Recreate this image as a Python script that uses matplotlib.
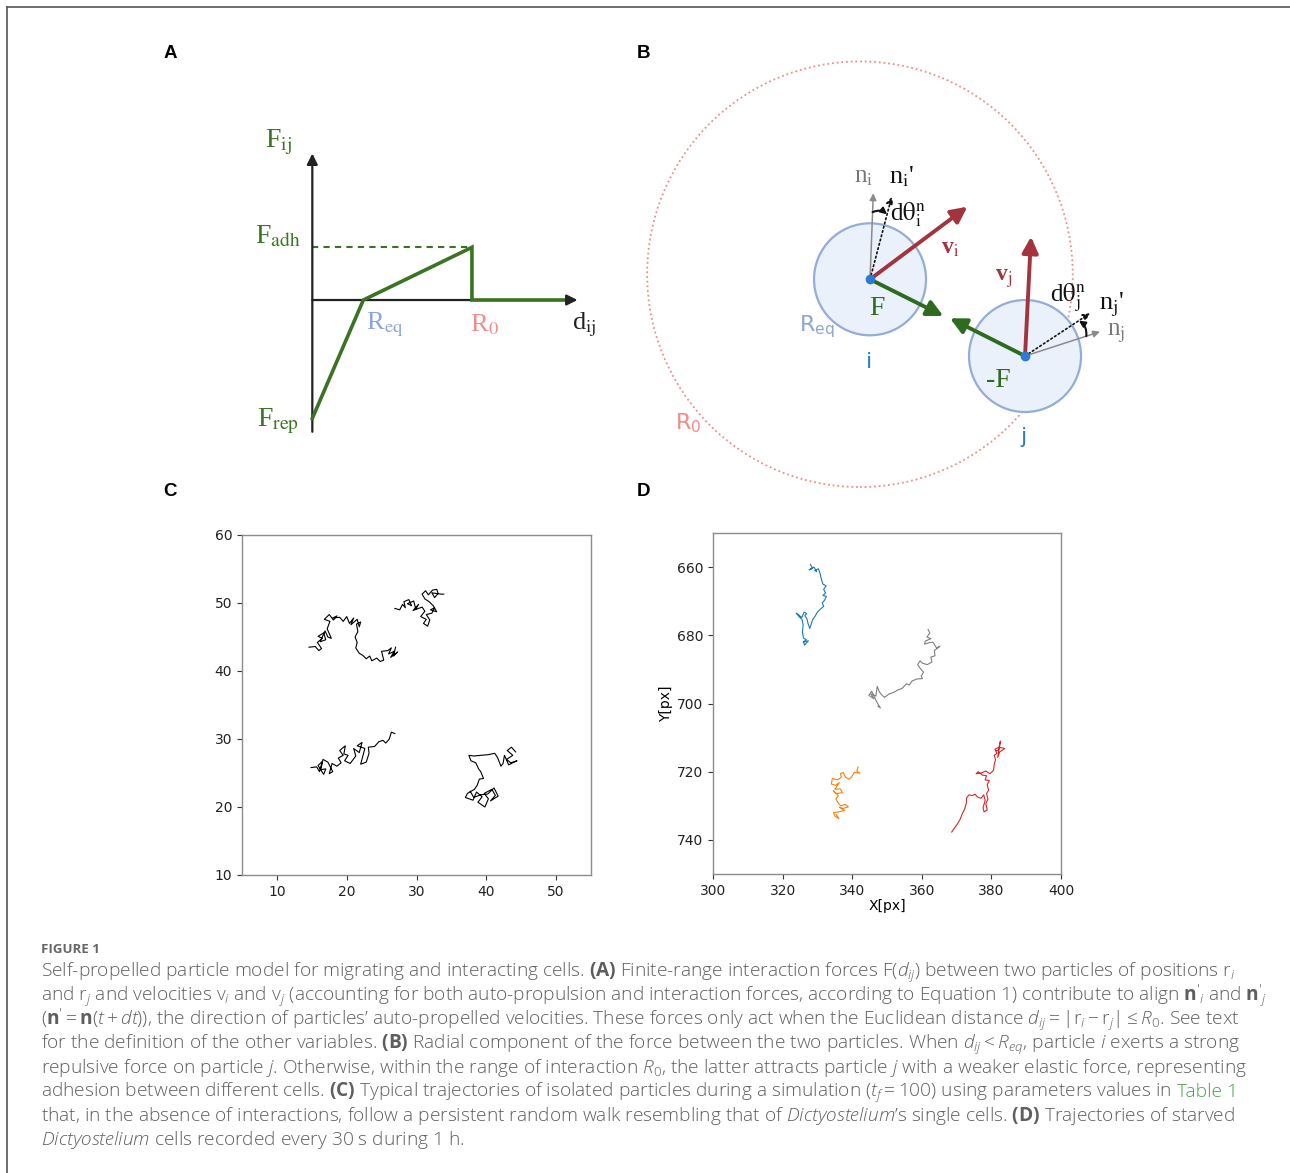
import numpy as np
import matplotlib.pyplot as plt
from matplotlib.patches import Circle

W, H = 1290, 1173

plt.rcParams['mathtext.fontset'] = 'custom'
plt.rcParams['mathtext.rm'] = 'Open Sans:light'
plt.rcParams['mathtext.it'] = 'Open Sans:italic:light'
plt.rcParams['mathtext.bf'] = 'Open Sans:bold'

# ---- panel A: piecewise interaction force (d in units of R_eq, F in units of F_adh)
R_eq = 1.0
R_0 = 3.13
d_max = 4.92
F_adh = 1.0
F_rep = -2.245
force_d = [0, R_eq, R_0, R_0, d_max]
force_F = [F_rep, 0, F_adh, 0, 0]

# ---- panel B: two particles (units of R_eq, particle i at origin)
pos_i = (0.0, 0.0)
pos_j = (2.768, -1.37)
r0_center = (-0.18, 0.09)
r0_radius = 3.8
F_tip = (1.309, -0.655)
minusF_tip = (1.429, -0.696)
v_i_tip = (1.738, 1.296)
v_j_tip = (2.875, 0.761)
n_i_tip = (0.059, 1.536)
n_i_new_tip = (0.3875, 1.475)
n_j_tip = (4.107, -0.936)
n_j_new_tip = (3.929, -0.607)

# ---- panel C: simulated trajectories
c1_x = [14.6, 15.5, 16.0, 16.4, 15.8, 16.5, 15.9, 16.7, 17.0, 16.2, 16.9, 17.3, 17.8, 17.2, 17.6, 16.8,
        17.5, 18.1, 18.6, 18.0, 19.0, 19.5, 20.0, 20.4, 21.0, 20.6, 21.5, 21.8, 22.0, 21.4, 21.6, 21.2,
        21.5, 21.3, 21.8, 22.3, 22.8, 23.3, 23.6, 24.3, 24.8, 25.3, 25.0, 25.9, 26.4, 26.0, 26.8, 26.3,
        27.3, 26.7, 27.0]
c1_y = [43.5, 43.6, 43.0, 43.3, 44.2, 44.8, 45.1, 45.6, 44.6, 44.3, 45.9, 45.0, 44.8, 46.2, 47.3, 47.6,
        48.3, 47.5, 48.1, 47.8, 47.9, 47.3, 48.0, 47.0, 47.8, 46.8, 47.6, 46.5, 47.2, 46.9, 45.8, 45.0,
        44.2, 43.4, 42.6, 42.3, 41.8, 42.2, 41.5, 41.9, 41.4, 41.6, 42.9, 43.0, 43.4, 42.5, 42.9, 42.0,
        42.8, 42.2, 43.5]
c2_x = [26.9, 27.6, 28.0, 28.4, 28.2, 28.9, 29.3, 28.7, 29.6, 29.9, 30.3, 29.5, 30.8, 31.2, 30.6, 31.4,
        31.0, 31.6, 31.9, 31.4, 32.2, 32.6, 32.0, 32.9, 32.4, 31.8, 31.2, 30.8, 31.3, 31.7, 32.3, 32.9,
        33.1, 32.6, 32.2, 33.5, 33.9]
c2_y = [49.2, 49.0, 49.8, 49.3, 50.2, 50.5, 49.6, 49.9, 50.3, 49.1, 49.8, 48.9, 49.4, 48.8, 48.0, 47.6,
        47.0, 46.6, 47.5, 48.3, 48.5, 49.3, 49.0, 48.7, 49.6, 50.2, 50.6, 51.3, 51.8, 51.2, 51.9, 52.0,
        51.4, 50.8, 51.5, 51.3, 51.3]
c3_x = [14.9, 15.7, 16.1, 16.5, 15.9, 16.7, 17.0, 16.3, 16.6, 17.3, 18.0, 17.5, 17.9, 18.6, 19.2, 18.8,
        19.5, 19.0, 19.8, 19.6, 20.2, 19.7, 20.5, 21.3, 21.0, 21.8, 22.2, 21.5, 22.6, 22.0, 22.8, 23.2,
        23.1, 24.0, 24.6, 25.2, 25.6, 26.1, 26.4, 26.9]
c3_y = [25.8, 25.9, 25.2, 26.7, 26.1, 24.8, 25.6, 25.5, 27.0, 26.6, 25.2, 24.9, 26.4, 26.0, 26.5, 27.2,
        27.6, 28.3, 29.0, 27.8, 27.6, 26.8, 26.4, 27.5, 28.6, 28.0, 29.5, 29.0, 28.6, 26.3, 26.6, 27.9,
        28.8, 28.9, 29.6, 29.8, 29.4, 30.0, 31.0, 30.8]
c4_x = [44.2, 43.6, 43.0, 43.8, 42.9, 43.5, 44.4, 43.2, 42.6, 42.4, 42.1, 41.6, 41.2, 40.3, 39.2, 38.2,
        37.5, 37.8, 38.5, 38.9, 39.2, 39.6, 39.0, 38.7, 38.3, 37.3, 37.0, 38.1, 38.6, 39.4, 38.8, 39.8,
        40.3, 39.7, 40.8, 41.3, 40.6, 41.7, 41.1, 40.2, 39.2, 38.2, 37.7]
c4_y = [28.1, 28.8, 28.3, 27.6, 27.0, 26.5, 26.8, 26.2, 27.6, 26.4, 26.0, 27.3, 27.9, 27.7, 27.6, 27.5,
        27.6, 26.8, 26.5, 25.6, 25.2, 24.2, 24.1, 23.2, 22.6, 22.0, 21.4, 21.0, 22.2, 21.5, 20.7, 20.0,
        21.2, 22.0, 22.6, 21.7, 20.9, 21.6, 22.8, 21.9, 21.8, 21.4, 22.3]
sim_x = [c1_x, c2_x, c3_x, c4_x]
sim_y = [c1_y, c2_y, c3_y, c4_y]

# ---- panel D: recorded cell trajectories [px]
blue_x = [328.0, 328.6, 327.6, 329.0, 329.8, 329.2, 330.3, 330.8, 331.2, 331.6, 332.5, 331.8, 332.3, 331.6,
          332.6, 332.0, 331.4, 331.8, 330.8, 330.0, 329.4, 328.6, 328.2, 327.8, 327.3, 327.0, 326.4, 326.9,
          326.2, 325.5, 324.6, 323.9, 324.8, 325.6, 325.9, 325.7, 326.0, 326.8, 325.9, 327.4, 326.3, 326.0]
blue_y = [659.2, 660.4, 660.8, 660.0, 661.3, 661.0, 660.5, 662.0, 663.8, 665.0, 665.5, 666.5, 667.6, 668.3,
          668.6, 669.8, 670.5, 671.5, 672.4, 673.2, 674.3, 675.5, 676.8, 678.0, 676.5, 675.2, 674.2, 673.6,
          673.2, 674.8, 674.0, 673.5, 674.6, 675.4, 677.0, 679.0, 680.8, 681.3, 682.0, 681.6, 682.9, 681.8]
gray_x = [361.8, 362.3, 361.5, 362.6, 361.0, 360.8, 362.0, 363.2, 364.3, 365.2, 363.6, 363.8, 362.6, 362.9,
          361.6, 360.2, 359.5, 358.8, 359.6, 360.5, 359.8, 360.2, 358.6, 357.2, 356.4, 355.6, 354.3, 353.2,
          351.8, 350.6, 349.3, 348.6, 347.8, 347.2, 346.8, 345.4, 346.2, 344.8, 345.6, 346.8, 347.5, 348.1,
          347.4]
gray_y = [678.3, 679.3, 680.5, 681.0, 681.7, 682.6, 682.2, 682.0, 683.8, 683.2, 684.5, 686.0, 686.4, 687.8,
          688.6, 688.2, 687.5, 688.6, 689.8, 690.8, 692.0, 692.7, 692.8, 693.4, 694.6, 694.2, 695.6, 696.0,
          696.8, 697.2, 698.2, 697.6, 696.6, 695.0, 697.8, 697.2, 698.6, 697.6, 696.4, 699.0, 700.3, 701.3,
          700.8]
orange_x = [341.7, 341.3, 342.2, 340.6, 339.8, 339.0, 338.0, 337.4, 336.6, 336.9, 335.8, 334.3, 334.0, 335.2,
            336.3, 335.0, 336.6, 337.2, 335.4, 334.6, 336.0, 335.3, 336.0, 336.7, 338.0, 338.9, 337.4, 336.3,
            337.8, 336.0, 334.6, 335.0, 336.2, 335.4]
orange_y = [718.6, 719.8, 720.4, 720.2, 721.6, 722.2, 721.5, 720.2, 720.6, 721.6, 722.4, 722.0, 723.6, 724.0,
            723.2, 725.2, 725.0, 726.2, 726.4, 725.6, 727.0, 728.0, 729.2, 730.0, 729.6, 730.3, 730.8, 730.4,
            731.4, 731.8, 732.0, 733.0, 733.8, 732.6]
red_x = [368.6, 369.4, 370.3, 371.0, 371.6, 372.3, 372.8, 372.9, 373.6, 374.5, 375.3, 376.0, 377.0, 377.8,
         378.2, 377.6, 377.9, 378.8, 378.4, 379.0, 378.6, 379.2, 378.8, 379.4, 378.2, 378.6, 377.4, 376.2,
         375.6, 377.0, 378.4, 379.6, 380.6, 380.8, 381.2, 380.8, 381.6, 381.0, 382.2, 383.8, 382.4, 381.8,
         382.6, 382.0, 381.2]
red_y = [737.7, 736.5, 735.2, 734.0, 732.4, 731.0, 729.2, 727.6, 726.8, 727.0, 726.6, 727.4, 727.8, 726.8,
         728.4, 730.6, 731.8, 731.2, 729.4, 728.0, 726.4, 725.4, 723.8, 722.6, 722.4, 721.2, 721.0, 720.0,
         720.6, 720.4, 719.8, 720.6, 719.6, 718.0, 716.4, 715.2, 714.6, 713.4, 712.8, 713.2, 714.2, 715.8,
         711.0, 713.8, 713.8]
cell_x = [blue_x, gray_x, orange_x, red_x]
cell_y = [blue_y, gray_y, orange_y, red_y]
cell_colors = ['#1f77b4', '#7f7f7f', '#ff7f0e', '#d62728']

caption_lines = [
    r"Self-propelled particle model for migrating and interacting cells. $\mathbf{(A)}$ Finite-range interaction forces F($d_{ij}$) between two particles of positions $\mathrm{r}_i$",
    r"and $\mathrm{r}_j$ and velocities $\mathrm{v}_i$ and $\mathrm{v}_j$ (accounting for both auto-propulsion and interaction forces, according to Equation 1) contribute to align $\mathbf{n}'_i$ and $\mathbf{n}'_j$",
    r"($\mathbf{n}' = \mathbf{n}(t + dt)$), the direction of particles’ auto-propelled velocities. These forces only act when the Euclidean distance $d_{ij} = |\mathrm{r}_i - \mathrm{r}_j| \leq R_0$. See text",
    r"for the definition of the other variables. $\mathbf{(B)}$ Radial component of the force between the two particles. When $d_{ij} < R_{eq}$, particle $i$ exerts a strong",
    r"repulsive force on particle $j$. Otherwise, within the range of interaction $R_0$, the latter attracts particle $j$ with a weaker elastic force, representing",
    r"adhesion between different cells. $\mathbf{(C)}$ Typical trajectories of isolated particles during a simulation ($t_f = 100$) using parameters values in",
    r"that, in the absence of interactions, follow a persistent random walk resembling that of $\mathit{Dictyostelium}$’s single cells. $\mathbf{(D)}$ Trajectories of starved",
    r"$\mathit{Dictyostelium}$ cells recorded every 30 s during 1 h.",
]

fig = plt.figure(figsize=(W / 100, H / 100), dpi=100)


def add_ax(x0, y0, x1, y1):
    return fig.add_axes([x0 / W, 1 - y1 / H, (x1 - x0) / W, (y1 - y0) / H])


def arrow(ax, start, tip, color, lw, ms, ls='-', conn='arc3', style='-|>'):
    ax.annotate('', xy=tip, xytext=start,
                arrowprops=dict(arrowstyle=style, color=color, lw=lw, mutation_scale=ms,
                                shrinkA=0, shrinkB=0, linestyle=ls, connectionstyle=conn))


# overlay in figure pixels (y down) for frame, panel letters and caption
axT = add_ax(0, 0, W, H)
axT.set_xlim(0, W)
axT.set_ylim(H, 0)
axT.axis('off')
axT.plot([7, W], [7, 7], color='#555555', lw=1.2, clip_on=False)
axT.plot([7, 7], [7, H], color='#555555', lw=1.2, clip_on=False)
for lab, (lx, ly) in zip('ABCD', [(170, 54), (644, 54), (170, 492), (644, 492)]):
    axT.text(lx, ly, lab, fontsize=13.5, fontweight='bold', family='Liberation Sans',
             ha='center', va='center')

cap_size = 13.75
axT.text(41, 953, 'FIGURE 1', fontsize=9.5, fontweight='bold', color='#666666',
         family='Open Sans', va='baseline')
cap_texts = []
for k, line in enumerate(caption_lines):
    t = axT.text(41, 977 + 24 * k, line, fontsize=cap_size, color='#5e5e5e', family='Open Sans',
                 fontweight='light', va='baseline', ha='left', math_fontfamily='custom')
    cap_texts.append(t)
axT.annotate('Table 1', xy=(1, 977 + 24 * 5), xycoords=(cap_texts[5], 'data'),
             xytext=(4, 0), textcoords='offset points', fontsize=cap_size, color='#43a547',
             family='Open Sans', fontweight='light', va='baseline', ha='left')

# ---- panel A
green = '#3a7324'
axA = add_ax(240, 120, 610, 450)
axA.set_xlim(-1.418, 5.837)
axA.set_ylim(-2.846, 3.416)
axA.axis('off')
arrow(axA, (0, -2.5), (0, 2.78), '#222222', 1.6, 16)
arrow(axA, (0, 0), (5.2, 0), '#222222', 1.6, 16)
axA.plot([0, R_0], [F_adh, F_adh], color=green, lw=1.5, ls=(0, (3, 2.5)))
axA.plot(force_d, force_F, color=green, lw=2.6, solid_joinstyle='miter', zorder=5)
serif = dict(family='Liberation Serif', math_fontfamily='stix', ha='center', va='center')
axA.text(-0.67, 3.0, r'F$_{\mathrm{ij}}$', fontsize=20, color=green, **serif)
axA.text(-0.67, 1.2, r'F$_{\mathrm{adh}}$', fontsize=20, color=green, **serif)
axA.text(-0.67, -2.3, r'F$_{\mathrm{rep}}$', fontsize=20, color=green, **serif)
axA.text(1.42, -0.47, r'R$_{\mathrm{eq}}$', fontsize=19, color='#8aa4e0', **serif)
axA.text(3.38, -0.47, r'R$_{\mathrm{0}}$', fontsize=19, color='#f28b8b', **serif)
axA.text(5.33, -0.47, r'd$_{\mathrm{ij}}$', fontsize=19, color='#222222', **serif)

# ---- panel B
axB = add_ax(630, 40, 1140, 500)
axB.set_xlim(-4.286, 4.821)
axB.set_ylim(-3.941, 4.273)
axB.axis('off')
axB.add_patch(Circle(r0_center, r0_radius, fill=False, ec='#f28b8b', lw=1.3, ls=(0, (1, 1.6)), zorder=1))
for c in [pos_i, pos_j]:
    axB.add_patch(Circle(c, R_eq, fc='#eaf1fb', ec='#94acd9', lw=1.6, zorder=2))
arrow(axB, pos_i, n_i_tip, '#8a8a8a', 1.1, 10)
arrow(axB, pos_j, n_j_tip, '#8a8a8a', 1.1, 10)
arrow(axB, pos_i, n_i_new_tip, '#111111', 1.2, 10, ls=':')
arrow(axB, pos_j, n_j_new_tip, '#111111', 1.2, 10, ls=':')
arrow(axB, (0.046, 1.2), (0.305, 1.161), '#111111', 1.5, 9, conn='arc3,rad=-0.3')
arrow(axB, (3.862, -1.016), (3.729, -0.738), '#111111', 1.5, 9, conn='arc3,rad=0.3')
arrow(axB, pos_i, v_i_tip, '#a3333d', 2.8, 24)
arrow(axB, pos_j, v_j_tip, '#a3333d', 2.8, 24)
arrow(axB, pos_i, F_tip, '#2e6b1f', 2.8, 24)
arrow(axB, pos_j, minusF_tip, '#2e6b1f', 2.8, 24)
axB.plot([pos_i[0], pos_j[0]], [pos_i[1], pos_j[1]], 'o', color='#2b7bd0', ms=6, zorder=6)

axB.text(-0.12, 1.83, r'n$_{\mathrm{i}}$', fontsize=18, color='#777777', **serif)
axB.text(0.56, 1.83, r"n$_{\mathrm{i}}$'", fontsize=19, color='#111111', **serif)
axB.text(0.68, 1.15, r'd$\mathrm{\theta}_{\mathrm{i}}^{\mathrm{n}}$', fontsize=18, color='#111111', **serif)
axB.text(1.43, 0.55, r'v$_{\mathrm{i}}$', fontsize=17, color='#a3333d', fontweight='bold',
         family='Liberation Serif', math_fontfamily='stix', ha='center', va='center')
axB.text(2.38, 0.02, r'v$_{\mathrm{j}}$', fontsize=17, color='#a3333d', fontweight='bold',
         family='Liberation Serif', math_fontfamily='stix', ha='center', va='center')
axB.text(3.54, -0.33, r'd$\mathrm{\theta}_{\mathrm{j}}^{\mathrm{n}}$', fontsize=18, color='#111111', **serif)
axB.text(4.31, -0.46, r"n$_{\mathrm{j}}$'", fontsize=19, color='#111111', **serif)
axB.text(4.4, -0.96, r'n$_{\mathrm{j}}$', fontsize=18, color='#777777', **serif)
axB.text(0.12, -0.52, 'F', fontsize=20, color='#2e6b1f', **serif)
axB.text(2.29, -1.8, '-F', fontsize=20, color='#2e6b1f', **serif)
sans = dict(family='DejaVu Sans', math_fontfamily='dejavusans', ha='center', va='center')
axB.text(-0.95, -0.85, r'R$_{\mathrm{eq}}$', fontsize=16, color='#8fa5d6', **sans)
axB.text(-3.25, -2.57, r'R$_{\mathrm{0}}$', fontsize=16, color='#f28b8b', **sans)
axB.text(-0.01, -1.47, 'i', fontsize=16, color='#2b7bd0', **sans)
axB.text(2.74, -2.81, 'j', fontsize=16, color='#2b7bd0', **sans)


def style_axes(ax):
    for s in ax.spines.values():
        s.set_color('#8c8c8c')
        s.set_linewidth(1.0)
    ax.tick_params(labelsize=10, length=3.5, width=0.8, color='#333333', labelcolor='#222222')


# ---- panel C
axC = add_ax(242, 535, 591, 875)
for xs, ys in zip(sim_x, sim_y):
    axC.plot(xs, ys, color='black', lw=0.8)
axC.set_xlim(5, 55)
axC.set_ylim(10, 60)
axC.set_xticks(np.arange(10, 51, 10))
axC.set_yticks(np.arange(10, 61, 10))
style_axes(axC)

# ---- panel D
axD = add_ax(713, 533, 1061, 874)
for xs, ys, col in zip(cell_x, cell_y, cell_colors):
    axD.plot(xs, ys, color=col, lw=0.8)
axD.set_xlim(300, 400)
axD.set_ylim(750, 650)
axD.set_xticks(np.arange(300, 401, 20))
axD.set_yticks(np.arange(660, 741, 20))
axD.set_xlabel('X[px]', fontsize=10, labelpad=1)
axD.set_ylabel('Y[px]', fontsize=10, labelpad=3)
style_axes(axD)

fig.savefig('out.png', dpi=100)
